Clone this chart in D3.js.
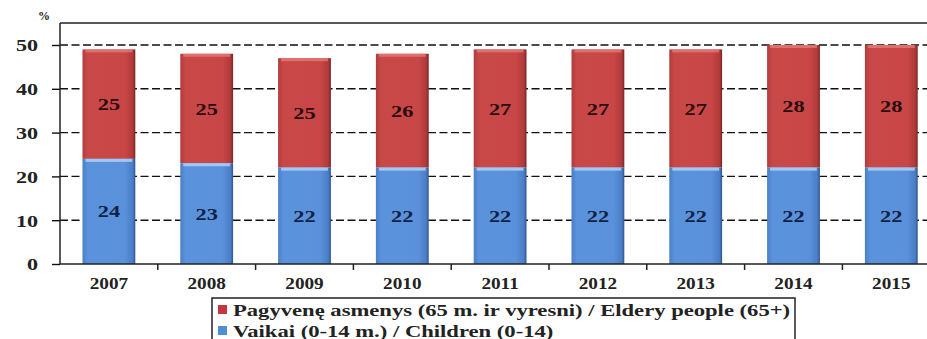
<!DOCTYPE html>
<html>
<head>
<meta charset="utf-8">
<script src="https://cdn.jsdelivr.net/npm/d3@7"></script>
</head>
<body style="margin:0;background:#fff">
<svg id="chart" width="927" height="339" style="display:block"></svg>
<script>
// Population shares by age group, %
const years = ["2007", "2008", "2009", "2010", "2011", "2012", "2013", "2014", "2015"];
const children = [24, 23, 22, 22, 22, 22, 22, 22, 22];
const elderly = [25, 25, 25, 26, 27, 27, 27, 28, 28];
const yTicks = [0, 10, 20, 30, 40, 50];
const seriesNames = [
  "Pagyvenę asmenys (65 m. ir vyresni) / Eldery people (65+)",
  "Vaikai (0-14 m.) / Children (0-14)"
];

const svg = d3.select("#chart");
function serifText(sel, size) {
  return sel.style("font-family", '"Liberation Serif"').style("font-weight", "bold")
    .style("font-size", size + "px");
}
// widen glyphs horizontally (wide bold serif look)
function widen(sel, factor) {
  sel.each(function () {
    const len = this.getComputedTextLength();
    d3.select(this).attr("textLength", len * factor).attr("lengthAdjust", "spacingAndGlyphs");
  });
  return sel;
}
const plotLeft = 60, plotTop = 23, plotBottom = 264;
const band = 97.8;
const plotRight = plotLeft + band * years.length;

const x = d3.scaleBand().domain(years).range([plotLeft, plotRight]).paddingInner(0.46).paddingOuter(0.23);
const y = d3.scaleLinear().domain([0, 50]).range([plotBottom, 45]);

// gradients for the shaded bars
const defs = svg.append("defs");
function grad(id, stops) {
  const g = defs.append("linearGradient").attr("id", id).attr("x1", "0").attr("x2", "1").attr("y1", "0").attr("y2", "0");
  stops.forEach(([o, c]) => g.append("stop").attr("offset", o).attr("stop-color", c));
}
grad("gRed", [["0%", "#b13c3c"], ["10%", "#c84848"], ["80%", "#c94647"], ["95%", "#b03a3a"], ["100%", "#7a2424"]]);
grad("gBlue", [["0%", "#4b7fc8"], ["10%", "#5a92dc"], ["80%", "#5a91da"], ["95%", "#4a7ec6"], ["100%", "#2f558e"]]);

// frame
svg.append("line").attr("x1", plotLeft).attr("x2", 927).attr("y1", plotTop).attr("y2", plotTop)
  .attr("stroke", "#222").attr("stroke-width", 1.3);

// dashed gridlines
svg.append("g").selectAll("line").data(yTicks.filter(d => d > 0)).join("line")
  .attr("x1", plotLeft).attr("x2", 927)
  .attr("y1", d => y(d)).attr("y2", d => y(d))
  .attr("stroke", "#111").attr("stroke-width", 1.4).attr("stroke-dasharray", "8,3.5");

// bars
const g = svg.append("g");
years.forEach((yr, i) => {
  const x0 = x(yr), w = x.bandwidth();
  const c = children[i], e = elderly[i];
  // elderly (top) segment
  g.append("rect").attr("x", x0).attr("width", w)
    .attr("y", y(c + e)).attr("height", y(c) - y(c + e)).attr("fill", "url(#gRed)");
  g.append("rect").attr("x", x0 + 3).attr("width", w - 6)
    .attr("y", y(c + e)).attr("height", 3).attr("fill", "#e47a78").attr("opacity", 0.8);
  // children (bottom) segment
  g.append("rect").attr("x", x0).attr("width", w)
    .attr("y", y(c)).attr("height", y(0) - y(c)).attr("fill", "url(#gBlue)");
  g.append("rect").attr("x", x0 + 3).attr("width", w - 6)
    .attr("y", y(c)).attr("height", 3).attr("fill", "#a9cdf4").attr("opacity", 0.9);
  // value labels
  widen(serifText(g.append("text"), 16).attr("x", x0 + w / 2).attr("y", y(c + e / 2) + 6)
    .attr("text-anchor", "middle").attr("fill", "#2a0d0d").text(e), 1.4);
  widen(serifText(g.append("text"), 16).attr("x", x0 + w / 2).attr("y", y(c / 2) + 6)
    .attr("text-anchor", "middle").attr("fill", "#0f1f45").text(c), 1.4);
});

// y axis
const yAxis = d3.axisLeft(y).tickValues(yTicks).tickSize(8).tickPadding(14);
const ya = svg.append("g").attr("transform", `translate(${plotLeft},0)`).call(yAxis);
ya.select(".domain").remove();
ya.selectAll(".tick line").attr("stroke", "#111").attr("stroke-width", 1.4);
widen(serifText(ya.selectAll(".tick text"), 17).attr("fill", "#222").attr("dy", "0.35em"), 1.3);
svg.append("line").attr("x1", plotLeft).attr("x2", plotLeft).attr("y1", plotTop).attr("y2", plotBottom)
  .attr("stroke", "#222").attr("stroke-width", 1.5);

// x axis
svg.append("line").attr("x1", plotLeft).attr("x2", 927).attr("y1", plotBottom).attr("y2", plotBottom)
  .attr("stroke", "#222").attr("stroke-width", 1.5);
svg.append("g").selectAll("line").data(years.slice(1)).join("line")
  .attr("x1", d => x(d) - x.step() * x.paddingInner() / 2).attr("x2", d => x(d) - x.step() * x.paddingInner() / 2)
  .attr("y1", plotBottom).attr("y2", plotBottom + 6).attr("stroke", "#222").attr("stroke-width", 1.5);
widen(serifText(svg.append("g").selectAll("text").data(years).join("text"), 16)
  .attr("x", d => x(d) + x.bandwidth() / 2).attr("y", 289)
  .attr("text-anchor", "middle").attr("fill", "#222").text(d => d), 1.2);

// unit
serifText(svg.append("text"), 12).attr("x", 38).attr("y", 20).attr("fill", "#222").text("%");

// legend
const lg = svg.append("g");
lg.append("rect").attr("x", 212).attr("y", 298).attr("width", 583).attr("height", 50)
  .attr("fill", "#fff").attr("stroke", "#222").attr("stroke-width", 1.5);
const legendColors = ["#c0393d", "#4f8fd0"];
seriesNames.forEach((name, i) => {
  const cy = 310 + i * 21;
  lg.append("rect").attr("x", 218).attr("y", cy - 5).attr("width", 9).attr("height", 9)
    .attr("fill", legendColors[i]);
  widen(serifText(lg.append("text"), 17).attr("x", 233).attr("y", cy + 5.5).attr("fill", "#222").text(name), 1.33);
});
</script>
</body>
</html>
